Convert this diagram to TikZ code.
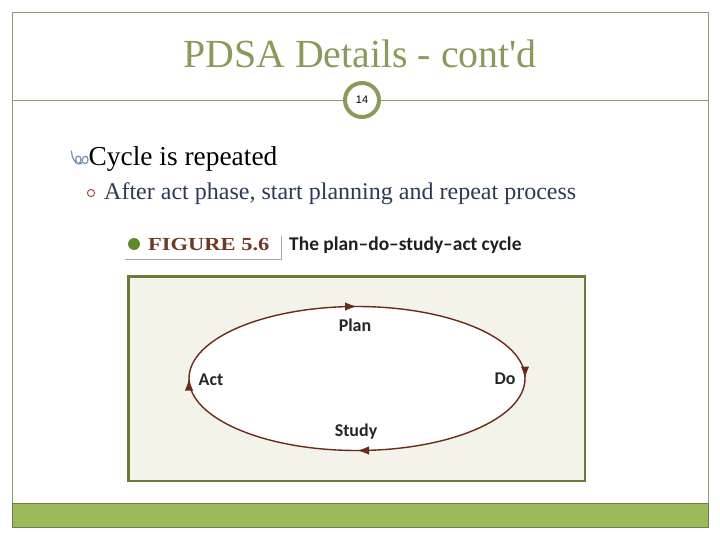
\documentclass[tikz,border=0pt]{standalone}
\usepackage{fontspec}
\setmainfont{Liberation Serif}
\newfontfamily\titlefont{Liberation Serif}
\newfontfamily\capsans{Carlito}
\newfontfamily\pgsans{Liberation Sans}
\usetikzlibrary{decorations.markings,arrows.meta}
\definecolor{frameol}{HTML}{8F9A6A}
\definecolor{titleol}{HTML}{8A9A5B}
\definecolor{bandgr}{HTML}{9BBB59}
\definecolor{boxol}{HTML}{6B7A35}
\definecolor{boxfill}{HTML}{F3F3EA}
\definecolor{cycbrown}{HTML}{6B2A1A}
\definecolor{subtext}{HTML}{2C3A55}
\definecolor{bulletblue}{HTML}{7890AE}
\definecolor{bulletred}{HTML}{A0504A}
\definecolor{figbrown}{HTML}{6E3B26}
\definecolor{dotgreen}{HTML}{5E8A2E}
\tikzset{
  cyclabel/.style={font=\capsans\bfseries\fontsize{18}{20}\selectfont, text=black!85, inner sep=0pt},
  frameline/.style={draw=frameol, line width=0.8bp},
  cyctip/.style={cycbrown},
}
\begin{document}
\begin{tikzpicture}[x=1bp,y=-1bp]
\useasboundingbox (0,0) rectangle (720,540);
\fill[white] (0,0) rectangle (720,540);
% slide frame
\draw[frameline] (12,527) -- (12,12) -- (708,12) -- (708,527);
\fill[bandgr] (12,503) rectangle (708,527);
\draw[frameol!80!black, line width=0.6bp] (12,503) rectangle (708,527);
% title
\node[anchor=base, inner sep=0, text=titleol, font=\titlefont\fontsize{40}{44}\selectfont] (title) at (360,68) {PDSA Details - cont'd};
\coordinate (tl) at (12,100);
\coordinate (tr) at (708,100);
\node[circle, draw=titleol, line width=4bp, fill=white, minimum size=34bp, inner sep=0pt, font=\pgsans\fontsize{11}{12}\selectfont] (pg) at (362,100) {14};
\draw[frameline] (tl) -- (pg.west);
\draw[frameline] (pg.east) -- (tr);
% bullet 1
\draw[bulletblue, line width=1.2bp, line cap=round] (71.5,151) .. controls (72,156) and (72.5,158) .. (74,160)
  .. controls (76,165) and (81,164.5) .. (81,159.5) .. controls (81,155) and (75.5,155) .. (75.8,159.5)
  .. controls (76.2,164.5) and (80.5,165.5) .. (82.8,162) .. controls (85,165.5) and (88,163) .. (88,159.5)
  .. controls (88,155) and (82.5,155) .. (82.3,160.5);
\node[anchor=base west, inner sep=0, font=\fontsize{27.5}{30}\selectfont] (l1) at (88.5,166) {Cycle is repeated};
% bullet 2
\draw[bulletred, line width=1bp] (91,193) circle (3.6);
\node[anchor=base west, inner sep=0, text=subtext, font=\fontsize{24.1}{26}\selectfont] (l2) at (104,199.5) {After act phase, start planning and repeat process};
% figure caption
\fill[dotgreen] (134,244) circle (6);
\node[anchor=base west, inner sep=0, text=figbrown, font=\bfseries\fontsize{18.5}{20}\selectfont] (fig) at (148,251) {\scalebox{1.22}[1]{FIGURE 5.6}};
\draw[black!35, line width=1.6bp] (125,259.5) -- (281.5,259.5) -- (281.5,236);
\node[anchor=base west, inner sep=0, text=black!88, font=\capsans\bfseries\fontsize{19.5}{21}\selectfont] (cap) at (289,251) {The plan–do–study–act cycle};
% figure box
\draw[boxol, fill=boxfill, line width=2.2bp] (128.5,276.5) rectangle (585,481);
% cycle
\coordinate (cc) at (357,378.5);
\draw[cycbrown, line width=1.4bp, fill=white,
  postaction={decorate},
  decoration={markings,
    mark=at position 0.0 with {\arrow[cyctip]{Latex[length=12bp,width=8.5bp]}},
    mark=at position 0.25 with {\arrow[cyctip]{Latex[length=12bp,width=8.5bp]}},
    mark=at position 0.5 with {\arrow[cyctip]{Latex[length=12bp,width=8.5bp]}},
    mark=at position 0.75 with {\arrow[cyctip]{Latex[length=12bp,width=8.5bp]}}}]
  (cc) ++(-168,0) arc[start angle=180, end angle=540, x radius=168, y radius=72];
\node[cyclabel] (plan) at (355,325) {Plan};
\node[cyclabel] (do) at (505,379) {Do};
\node[cyclabel] (study) at (356,432) {Study};
\node[cyclabel] (act) at (211,380) {Act};
\end{tikzpicture}
\end{document}
